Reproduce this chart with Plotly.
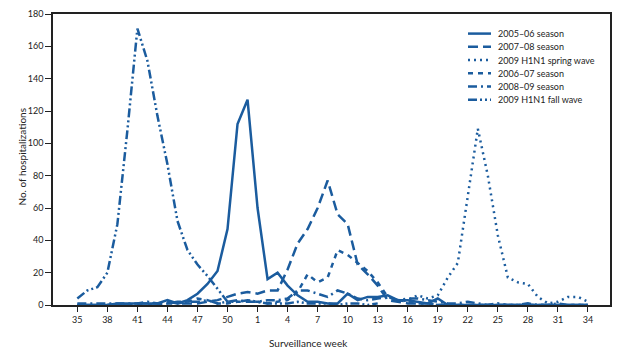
import plotly.graph_objects as go

weeks = ["35", "36", "37", "38", "39", "40", "41", "42", "43", "44", "45", "46",
         "47", "48", "49", "50", "51", "52", "1", "2", "3", "4", "5", "6", "7",
         "8", "9", "10", "11", "12", "13", "14", "15", "16", "17", "18", "19",
         "20", "21", "22", "23", "24", "25", "26", "27", "28", "29", "30", "31",
         "32", "33", "34"]
tick_labels = ["35", "38", "41", "44", "47", "50", "1", "4", "7", "10", "13",
               "16", "19", "22", "25", "28", "31", "34"]
y_ticks = [0, 20, 40, 60, 80, 100, 120, 140, 160, 180]

s2005_06 = [0, 0, 0, 0, 1, 1, 1, 1, 1, 3, 1, 3, 7, 13, 21, 47, 112, 127,
            60, 16, 20, 12, 6, 2, 2, 1, 1, 7, 3, 5, 5, 6, 3, 3, 2, 1, 4,
            0, 0, 0, 0, 0, 0, 0, 0, 0, 0, 0, 0, 0, 0, 0]
s2007_08 = [0, 0, 0, 0, 0, 0, 1, 1, 1, 2, 1, 1, 1, 2, 3, 5, 7, 8,
            7, 9, 9, 22, 38, 47, 60, 77, 56, 50, 25, 19, 12, 3, 2, 1, 1, 1, 0,
            0, 0, 0, 0, 0, 0, 0, 0, 0, 0, 0, 0, 0, 0, 0]
spring_2009 = [None] * 32 + [2, 3, 6, 4, 6, 17, 26, 66, 109, 80, 43, 17, 14,
                             13, 5, 1, 2, 5, 5, 2]
s2006_07 = [0, 0, 0, 0, 0, 0, 0, 0, 0, 1, 1, 2, 4, 3, 1, 1, 2, 2,
            2, 1, 2, 3, 8, 19, 14, 17, 34, 31, 26, 21, 14, 5, 3, 2, 1, 1, 0,
            0, 0, 0, 0, 0, 0, 0, 0, 0, 0, 0, 0, 0, 0, 0]
s2008_09 = [1, 1, 1, 1, 1, 1, 1, 2, 1, 1, 2, 2, 2, 3, 1, 2, 3, 2,
            2, 3, 3, 4, 9, 9, 7, 5, 9, 7, 4, 3, 4, 5, 3, 4, 4, 3, 2,
            1, 1, 2, 1, 0, 1, 0, 0, 1, 0, 0, 1, 0, 0, 0]
fall_2009 = [4, 9, 11, 20, 50, 108, 171, 151, 117, 87, 52, 34, 25, 18, 10, 2, 2, 3,
             2, 1, 1, 1, 2, 1, 1, 1, 0, 1, 1, 0, 1] + [None] * 21

series_names = ["2005–06 season", "2007–08 season", "2009 H1N1 spring wave",
                "2006–07 season", "2008–09 season", "2009 H1N1 fall wave"]
series_values = [s2005_06, s2007_08, spring_2009, s2006_07, s2008_09, fall_2009]
series_dash = ["solid", "10px,5px", "2px,4px", "5px,5px", "9px,4px,2px,4px",
               "9px,3px,2px,3px,2px,3px"]

color = "#1b5c9e"
text_color = "#222"
fig = go.Figure()
for name, vals, dash in zip(series_names, series_values, series_dash):
    fig.add_trace(go.Scatter(
        x=weeks, y=vals, name=name, mode="lines",
        line=dict(color=color, width=2.5, dash=dash),
        connectgaps=False, showlegend=False,
    ))

# Legend (compact, drawn in paper coordinates like the original)
L, R, T, B = 53, 610, 8, 305
def px_x(p):
    return (p - L) / (R - L)
def px_y(p):
    return (B - p) / (B - T)

shapes = []
annotations = []
for i, (name, dash) in enumerate(zip(series_names, series_dash)):
    yc = 28 + i * 13.5
    shapes.append(dict(type="line", xref="paper", yref="paper",
                       x0=px_x(468), x1=px_x(491), y0=px_y(yc), y1=px_y(yc),
                       line=dict(color=color, width=2.5, dash=dash)))
    annotations.append(dict(text=name, xref="paper", yref="paper",
                            x=px_x(496), y=px_y(yc), xanchor="left",
                            yanchor="middle", showarrow=False,
                            font=dict(size=9, color=text_color)))

annotations += [
    dict(text="Surveillance week", xref="paper", yref="paper", x=0.458, y=0,
         yshift=-38, xanchor="center", yanchor="middle", showarrow=False,
         font=dict(size=10, color=text_color)),
    dict(text="No. of hospitalizations", xref="paper", yref="paper",
         x=-0.0557, y=0.51, xanchor="center", yanchor="middle",
         textangle=-90, showarrow=False, font=dict(size=10, color=text_color)),
]

font = "Lato, 'Open Sans', sans-serif"
fig.update_layout(
    width=626, height=354,
    margin=dict(l=L, r=626 - R, t=T, b=354 - B),
    plot_bgcolor="white", paper_bgcolor="white",
    font=dict(family=font, size=9, color=text_color),
    showlegend=False,
    xaxis=dict(type="category", categoryorder="array", categoryarray=weeks,
               range=[-2.43, 53.2], tickmode="array", tickvals=tick_labels,
               ticktext=tick_labels, ticks="outside", ticklen=5, tickwidth=1,
               tickcolor=text_color, showline=True, linecolor=text_color,
               linewidth=1.5, mirror=True, showgrid=False, zeroline=False,
               tickfont=dict(size=9, color=text_color)),
    yaxis=dict(range=[0, 180], tickmode="array", tickvals=y_ticks,
               ticks="outside", ticklen=6, tickwidth=1, tickcolor=text_color,
               showline=True, linecolor=text_color, linewidth=1.5, mirror=True,
               showgrid=False, zeroline=False,
               tickfont=dict(size=9, color=text_color)),
    shapes=shapes,
    annotations=annotations,
)

fig.write_html("out.html")
